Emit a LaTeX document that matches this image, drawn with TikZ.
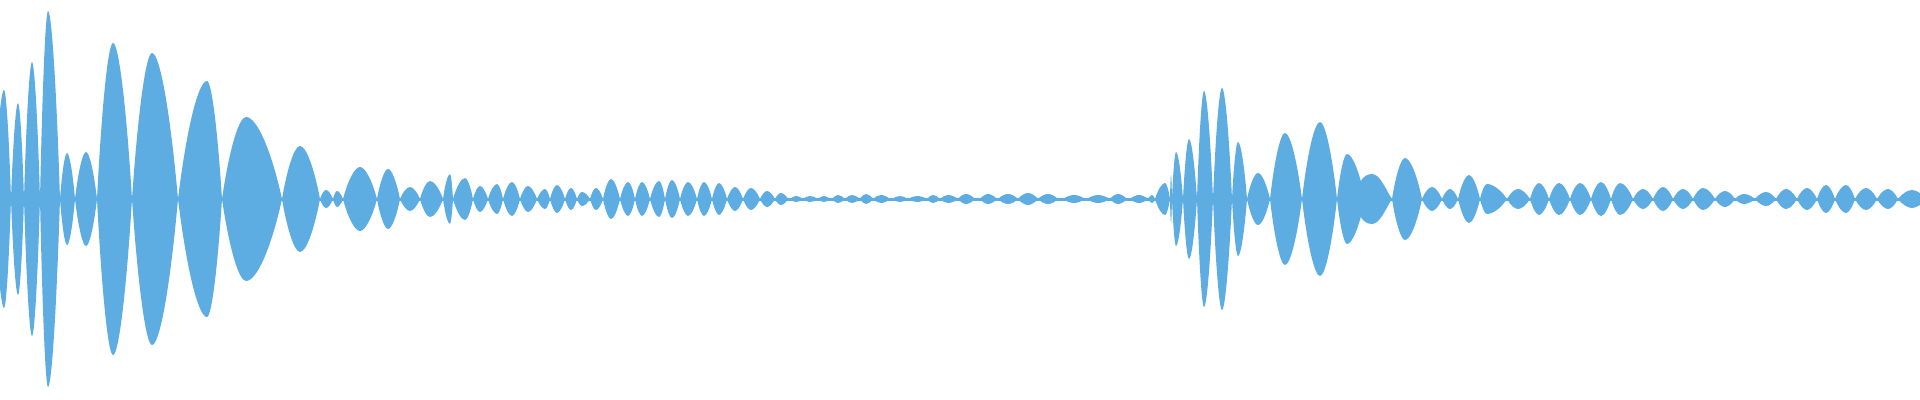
\documentclass[tikz,border=0pt]{standalone}
\definecolor{wavblue}{HTML}{5DACE2}
\usepackage{tikz}

\begin{document}
\begin{tikzpicture}[x=0.01cm, y=-0.01cm,
    lobe/.style={fill=wavblue, draw=none}]
  \useasboundingbox (0,0) rectangle (1920,400);
  % thin centre line through the pinches
  \fill[wavblue] (0,198) rectangle (1920,200.5);
  % lobes: left end / peak / right end / half height
  \foreach \l/\p/\r/\a in {
      -6/4/11/109, 11/18/24/96, 24/32/40/137, 40/48/60/188,
      60/67/75/46, 75/86/97/47, 97/113/132/156, 132/152/178/146,
      178/207/222/118, 222/246/282/82, 282/300/320/53,
      320/326/333/9, 333/337/343/8, 343/360/377/32, 377/388/400/30,
      400/410/420/12, 420/430/443/18, 443/450/453/25, 453/465/473/21,
      473/480/488/13, 488/497/503/15, 503/512/520/17, 520/528/537/13,
      537/545/550/10, 550/557/565/14, 565/571/577/11, 577/582/590/7,
      590/596/603/11, 603/611/620/20, 620/628/635/17, 635/642/650/17,
      650/659/665/18, 665/672/680/19, 680/688/697/17, 697/704/712/17,
      712/719/727/16, 727/735/743/12, 743/751/760/11, 760/767/775/8,
      775/781/788/6, 790/796/803/3, 803/810/818/3, 818/824/830/3,
      832/838/845/4, 845/852/860/4, 860/866/873/5, 873/881/890/4,
      892/900/908/3, 908/917/927/3, 927/933/940/4, 940/948/958/4,
      958/966/975/5, 980/988/997/5, 998/1008/1018/5, 1018/1028/1038/6,
      1038/1048/1058/5, 1063/1074/1085/4, 1087/1098/1110/4,
      1110/1118/1127/5, 1130/1139/1148/4, 1148/1152/1155/4,
      1155/1165/1170/16, 1170/1171/1172/24, 1172/1176/1183/47,
      1183/1189/1197/60, 1197/1204/1213/108, 1213/1222/1232/111,
      1232/1238/1247/57, 1247/1258/1270/26, 1270/1285/1302/66,
      1302/1320/1337/77, 1337/1347/1365/45, 1392/1405/1422/41,
      1422/1432/1442/12, 1442/1450/1458/10, 1458/1469/1480/24,
      1480/1487/1507/15, 1507/1518/1530/10, 1530/1539/1549/16,
      1549/1559/1570/16, 1570/1580/1591/16, 1591/1601/1611/17,
      1611/1620/1633/16, 1633/1643/1653/10, 1653/1663/1673/12,
      1673/1683/1693/10, 1693/1703/1715/11, 1715/1725/1735/8,
      1735/1744/1755/5, 1755/1766/1776/7, 1776/1786/1797/10,
      1797/1807/1817/11, 1817/1826/1835/14, 1835/1846/1855/14,
      1855/1866/1877/11, 1877/1888/1898/10, 1898/1912/1926/9}
  {
    \pgfmathsetmacro\la{\l+0.3*(\p-\l)}
    \pgfmathsetmacro\lb{\l+0.7*(\p-\l)}
    \pgfmathsetmacro\ra{\r-0.3*(\r-\p)}
    \pgfmathsetmacro\rb{\r-0.7*(\r-\p)}
    \fill[lobe] (\l,199)
      .. controls (\la,{199-0.6*\a}) and (\lb,{199-\a}) .. (\p,{199-\a})
      .. controls (\rb,{199-\a}) and (\ra,{199-0.6*\a}) .. (\r,199)
      .. controls (\ra,{199+0.6*\a}) and (\rb,{199+\a}) .. (\p,{199+\a})
      .. controls (\lb,{199+\a}) and (\la,{199+0.6*\a}) .. (\l,199);
  }
  % shoulder on the wide lobe at the right
  \fill[lobe] (1352,199) .. controls (1358,185) and (1362,174) .. (1372,174)
    .. controls (1380,174) and (1386,190) .. (1392,199)
    .. controls (1386,208) and (1380,224) .. (1372,224)
    .. controls (1362,224) and (1358,213) .. (1352,199);
\end{tikzpicture}
\end{document}
